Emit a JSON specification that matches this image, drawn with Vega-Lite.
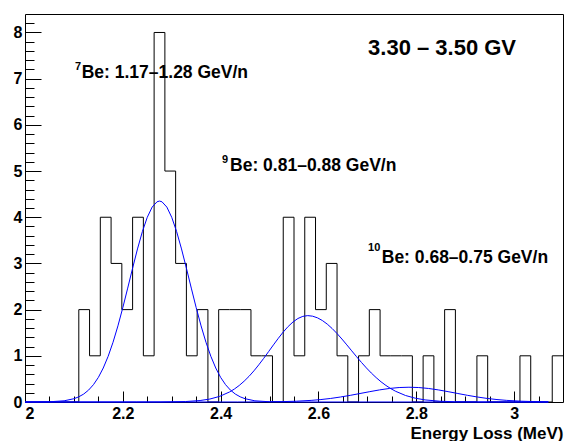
{
  "$schema": "https://vega.github.io/schema/vega-lite/v6.json",
  "width": 538,
  "height": 388,
  "autosize": "none",
  "padding": {"left": 25, "top": 14, "right": 2, "bottom": 39},
  "background": "white",
  "config": {
    "view": {"stroke": "black", "strokeWidth": 1},
    "font": "Liberation Sans",
    "axis": {
      "labelFont": "Liberation Sans",
      "titleFont": "Liberation Sans",
      "labelColor": "black",
      "titleColor": "black",
      "tickColor": "black",
      "labelFontWeight": "bold",
      "titleFontWeight": "bold",
      "grid": false,
      "domain": false,
      "tickWidth": 1
    }
  },
  "datasets": {
    "bins": [
      {"lo": 2.000, "hi": 2.022, "count": 0},
      {"lo": 2.022, "hi": 2.044, "count": 0},
      {"lo": 2.044, "hi": 2.066, "count": 0},
      {"lo": 2.066, "hi": 2.088, "count": 0},
      {"lo": 2.088, "hi": 2.110, "count": 0},
      {"lo": 2.110, "hi": 2.132, "count": 2},
      {"lo": 2.132, "hi": 2.154, "count": 1},
      {"lo": 2.154, "hi": 2.176, "count": 4},
      {"lo": 2.176, "hi": 2.198, "count": 3},
      {"lo": 2.198, "hi": 2.220, "count": 2},
      {"lo": 2.220, "hi": 2.242, "count": 4},
      {"lo": 2.242, "hi": 2.264, "count": 1},
      {"lo": 2.264, "hi": 2.286, "count": 8},
      {"lo": 2.286, "hi": 2.308, "count": 5},
      {"lo": 2.308, "hi": 2.330, "count": 3},
      {"lo": 2.330, "hi": 2.352, "count": 1},
      {"lo": 2.352, "hi": 2.374, "count": 2},
      {"lo": 2.374, "hi": 2.396, "count": 0},
      {"lo": 2.396, "hi": 2.418, "count": 2},
      {"lo": 2.418, "hi": 2.440, "count": 2},
      {"lo": 2.440, "hi": 2.462, "count": 2},
      {"lo": 2.462, "hi": 2.484, "count": 1},
      {"lo": 2.484, "hi": 2.506, "count": 1},
      {"lo": 2.506, "hi": 2.528, "count": 0},
      {"lo": 2.528, "hi": 2.550, "count": 4},
      {"lo": 2.550, "hi": 2.572, "count": 1},
      {"lo": 2.572, "hi": 2.594, "count": 4},
      {"lo": 2.594, "hi": 2.616, "count": 2},
      {"lo": 2.616, "hi": 2.638, "count": 3},
      {"lo": 2.638, "hi": 2.660, "count": 1},
      {"lo": 2.660, "hi": 2.682, "count": 0},
      {"lo": 2.682, "hi": 2.704, "count": 1},
      {"lo": 2.704, "hi": 2.726, "count": 2},
      {"lo": 2.726, "hi": 2.748, "count": 1},
      {"lo": 2.748, "hi": 2.770, "count": 1},
      {"lo": 2.770, "hi": 2.792, "count": 1},
      {"lo": 2.792, "hi": 2.814, "count": 0},
      {"lo": 2.814, "hi": 2.836, "count": 1},
      {"lo": 2.836, "hi": 2.858, "count": 0},
      {"lo": 2.858, "hi": 2.880, "count": 2},
      {"lo": 2.880, "hi": 2.902, "count": 0},
      {"lo": 2.902, "hi": 2.924, "count": 0},
      {"lo": 2.924, "hi": 2.946, "count": 1},
      {"lo": 2.946, "hi": 2.968, "count": 0},
      {"lo": 2.968, "hi": 2.990, "count": 0},
      {"lo": 2.990, "hi": 3.012, "count": 0},
      {"lo": 3.012, "hi": 3.034, "count": 1},
      {"lo": 3.034, "hi": 3.056, "count": 0},
      {"lo": 3.056, "hi": 3.078, "count": 0},
      {"lo": 3.078, "hi": 3.100, "count": 1}
    ],
    "curves": [
      {"peak": "7Be", "x": 2.00, "y": 0.0002},
      {"peak": "7Be", "x": 2.05, "y": 0.0048},
      {"peak": "7Be", "x": 2.08, "y": 0.026},
      {"peak": "7Be", "x": 2.10, "y": 0.071},
      {"peak": "7Be", "x": 2.11, "y": 0.112},
      {"peak": "7Be", "x": 2.12, "y": 0.172},
      {"peak": "7Be", "x": 2.13, "y": 0.258},
      {"peak": "7Be", "x": 2.14, "y": 0.376},
      {"peak": "7Be", "x": 2.15, "y": 0.533},
      {"peak": "7Be", "x": 2.16, "y": 0.736},
      {"peak": "7Be", "x": 2.17, "y": 0.989},
      {"peak": "7Be", "x": 2.18, "y": 1.294},
      {"peak": "7Be", "x": 2.19, "y": 1.648},
      {"peak": "7Be", "x": 2.20, "y": 2.043},
      {"peak": "7Be", "x": 2.21, "y": 2.466},
      {"peak": "7Be", "x": 2.22, "y": 2.897},
      {"peak": "7Be", "x": 2.23, "y": 3.314},
      {"peak": "7Be", "x": 2.24, "y": 3.690},
      {"peak": "7Be", "x": 2.25, "y": 3.999},
      {"peak": "7Be", "x": 2.26, "y": 4.220},
      {"peak": "7Be", "x": 2.27, "y": 4.335},
      {"peak": "7Be", "x": 2.275, "y": 4.35},
      {"peak": "7Be", "x": 2.28, "y": 4.335},
      {"peak": "7Be", "x": 2.29, "y": 4.220},
      {"peak": "7Be", "x": 2.30, "y": 3.999},
      {"peak": "7Be", "x": 2.31, "y": 3.690},
      {"peak": "7Be", "x": 2.32, "y": 3.314},
      {"peak": "7Be", "x": 2.33, "y": 2.897},
      {"peak": "7Be", "x": 2.34, "y": 2.466},
      {"peak": "7Be", "x": 2.35, "y": 2.043},
      {"peak": "7Be", "x": 2.36, "y": 1.648},
      {"peak": "7Be", "x": 2.37, "y": 1.294},
      {"peak": "7Be", "x": 2.38, "y": 0.989},
      {"peak": "7Be", "x": 2.39, "y": 0.736},
      {"peak": "7Be", "x": 2.40, "y": 0.533},
      {"peak": "7Be", "x": 2.41, "y": 0.376},
      {"peak": "7Be", "x": 2.42, "y": 0.258},
      {"peak": "7Be", "x": 2.43, "y": 0.172},
      {"peak": "7Be", "x": 2.44, "y": 0.112},
      {"peak": "7Be", "x": 2.45, "y": 0.071},
      {"peak": "7Be", "x": 2.47, "y": 0.026},
      {"peak": "7Be", "x": 2.50, "y": 0.0048},
      {"peak": "7Be", "x": 2.55, "y": 0.0002},
      {"peak": "7Be", "x": 3.07, "y": 0},
      {"peak": "9Be", "x": 2.00, "y": 0},
      {"peak": "9Be", "x": 2.228, "y": 0.0001},
      {"peak": "9Be", "x": 2.278, "y": 0.0009},
      {"peak": "9Be", "x": 2.328, "y": 0.0096},
      {"peak": "9Be", "x": 2.358, "y": 0.032},
      {"peak": "9Be", "x": 2.378, "y": 0.064},
      {"peak": "9Be", "x": 2.398, "y": 0.122},
      {"peak": "9Be", "x": 2.418, "y": 0.216},
      {"peak": "9Be", "x": 2.428, "y": 0.280},
      {"peak": "9Be", "x": 2.438, "y": 0.358},
      {"peak": "9Be", "x": 2.448, "y": 0.450},
      {"peak": "9Be", "x": 2.458, "y": 0.555},
      {"peak": "9Be", "x": 2.468, "y": 0.674},
      {"peak": "9Be", "x": 2.478, "y": 0.805},
      {"peak": "9Be", "x": 2.488, "y": 0.944},
      {"peak": "9Be", "x": 2.498, "y": 1.090},
      {"peak": "9Be", "x": 2.508, "y": 1.237},
      {"peak": "9Be", "x": 2.518, "y": 1.380},
      {"peak": "9Be", "x": 2.528, "y": 1.515},
      {"peak": "9Be", "x": 2.538, "y": 1.634},
      {"peak": "9Be", "x": 2.548, "y": 1.733},
      {"peak": "9Be", "x": 2.558, "y": 1.808},
      {"peak": "9Be", "x": 2.568, "y": 1.854},
      {"peak": "9Be", "x": 2.578, "y": 1.870},
      {"peak": "9Be", "x": 2.588, "y": 1.858},
      {"peak": "9Be", "x": 2.598, "y": 1.822},
      {"peak": "9Be", "x": 2.608, "y": 1.764},
      {"peak": "9Be", "x": 2.618, "y": 1.686},
      {"peak": "9Be", "x": 2.628, "y": 1.591},
      {"peak": "9Be", "x": 2.638, "y": 1.482},
      {"peak": "9Be", "x": 2.648, "y": 1.363},
      {"peak": "9Be", "x": 2.658, "y": 1.237},
      {"peak": "9Be", "x": 2.668, "y": 1.108},
      {"peak": "9Be", "x": 2.678, "y": 0.980},
      {"peak": "9Be", "x": 2.688, "y": 0.856},
      {"peak": "9Be", "x": 2.698, "y": 0.738},
      {"peak": "9Be", "x": 2.708, "y": 0.628},
      {"peak": "9Be", "x": 2.718, "y": 0.528},
      {"peak": "9Be", "x": 2.728, "y": 0.437},
      {"peak": "9Be", "x": 2.738, "y": 0.358},
      {"peak": "9Be", "x": 2.748, "y": 0.289},
      {"peak": "9Be", "x": 2.758, "y": 0.231},
      {"peak": "9Be", "x": 2.778, "y": 0.141},
      {"peak": "9Be", "x": 2.798, "y": 0.082},
      {"peak": "9Be", "x": 2.818, "y": 0.045},
      {"peak": "9Be", "x": 2.848, "y": 0.017},
      {"peak": "9Be", "x": 2.878, "y": 0.0056},
      {"peak": "9Be", "x": 2.928, "y": 0.0007},
      {"peak": "9Be", "x": 3.07, "y": 0},
      {"peak": "10Be", "x": 2.00, "y": 0},
      {"peak": "10Be", "x": 2.435, "y": 0.0004},
      {"peak": "10Be", "x": 2.485, "y": 0.0022},
      {"peak": "10Be", "x": 2.525, "y": 0.0076},
      {"peak": "10Be", "x": 2.555, "y": 0.017},
      {"peak": "10Be", "x": 2.585, "y": 0.035},
      {"peak": "10Be", "x": 2.605, "y": 0.053},
      {"peak": "10Be", "x": 2.625, "y": 0.077},
      {"peak": "10Be", "x": 2.645, "y": 0.108},
      {"peak": "10Be", "x": 2.665, "y": 0.144},
      {"peak": "10Be", "x": 2.685, "y": 0.184},
      {"peak": "10Be", "x": 2.705, "y": 0.224},
      {"peak": "10Be", "x": 2.725, "y": 0.262},
      {"peak": "10Be", "x": 2.745, "y": 0.293},
      {"peak": "10Be", "x": 2.765, "y": 0.313},
      {"peak": "10Be", "x": 2.785, "y": 0.320},
      {"peak": "10Be", "x": 2.805, "y": 0.313},
      {"peak": "10Be", "x": 2.825, "y": 0.293},
      {"peak": "10Be", "x": 2.845, "y": 0.262},
      {"peak": "10Be", "x": 2.865, "y": 0.224},
      {"peak": "10Be", "x": 2.885, "y": 0.184},
      {"peak": "10Be", "x": 2.905, "y": 0.144},
      {"peak": "10Be", "x": 2.925, "y": 0.108},
      {"peak": "10Be", "x": 2.945, "y": 0.077},
      {"peak": "10Be", "x": 2.965, "y": 0.053},
      {"peak": "10Be", "x": 2.985, "y": 0.035},
      {"peak": "10Be", "x": 3.015, "y": 0.017},
      {"peak": "10Be", "x": 3.045, "y": 0.0076},
      {"peak": "10Be", "x": 3.07, "y": 0.0036}
    ]
  },
  "layer": [
    {
      "data": {"name": "bins"},
      "transform": [{"fold": ["lo", "hi"], "as": ["side", "edge"]}],
      "mark": {"type": "line", "color": "black", "strokeWidth": 1},
      "encoding": {
        "x": {
          "field": "edge", "type": "quantitative",
          "scale": {"domain": [2, 3.1], "nice": false, "zero": false},
          "axis": {
            "orient": "bottom",
            "values": [2, 2.2, 2.4, 2.6, 2.8, 3],
            "format": "~g",
            "tickSize": -11,
            "labelPadding": 14,
            "labelFontSize": 16,
            "title": "Energy Loss (MeV)",
            "titleFontSize": 17,
            "titleAnchor": "end",
            "titlePadding": 4
          }
        },
        "y": {
          "field": "count", "type": "quantitative",
          "scale": {"domain": [0, 8.4], "nice": false, "zero": true},
          "axis": {
            "orient": "left",
            "values": [0, 1, 2, 3, 4, 5, 6, 7, 8],
            "format": "~g",
            "tickSize": -16,
            "labelPadding": 19,
            "labelFontSize": 16,
            "title": null
          }
        },
        "order": [
          {"field": "edge", "type": "quantitative"},
          {"field": "side", "type": "nominal"}
        ]
      }
    },
    {
      "data": {"name": "curves"},
      "mark": {"type": "line", "color": "#0000ff", "strokeWidth": 1},
      "encoding": {
        "x": {
          "field": "x", "type": "quantitative",
          "axis": {
            "orient": "bottom",
            "values": [2.05, 2.1, 2.15, 2.25, 2.3, 2.35, 2.45, 2.5, 2.55, 2.65, 2.7, 2.75, 2.85, 2.9, 2.95, 3.05],
            "tickSize": -6,
            "labels": false,
            "title": null
          }
        },
        "y": {
          "field": "y", "type": "quantitative",
          "axis": {
            "orient": "left",
            "values": [0.2, 0.4, 0.6, 0.8, 1.2, 1.4, 1.6, 1.8, 2.2, 2.4, 2.6, 2.8, 3.2, 3.4, 3.6, 3.8, 4.2, 4.4, 4.6, 4.8, 5.2, 5.4, 5.6, 5.8, 6.2, 6.4, 6.6, 6.8, 7.2, 7.4, 7.6, 7.8, 8.2],
            "tickSize": -9,
            "labels": false,
            "title": null
          }
        },
        "detail": {"field": "peak", "type": "nominal"},
        "order": {"field": "x", "type": "quantitative"}
      }
    },
    {
      "data": {"values": [{"label": "3.30 – 3.50 GV"}]},
      "mark": {"type": "text", "align": "left", "baseline": "alphabetic", "fontSize": 22, "fontWeight": "bold", "font": "Liberation Sans", "color": "black"},
      "encoding": {
        "x": {"datum": 2.7014, "type": "quantitative", "axis": null},
        "y": {"datum": 7.512, "type": "quantitative", "axis": null},
        "text": {"field": "label", "type": "nominal"}
      }
    },
    {
      "data": {"values": [{"label": "7"}]},
      "mark": {"type": "text", "align": "left", "baseline": "alphabetic", "fontSize": 11, "fontWeight": "bold", "font": "Liberation Sans", "color": "black"},
      "encoding": {
        "x": {"datum": 2.1022, "type": "quantitative", "axis": null},
        "y": {"datum": 7.188, "type": "quantitative", "axis": null},
        "text": {"field": "label", "type": "nominal"}
      }
    },
    {
      "data": {"values": [{"label": "Be: 1.17–1.28 GeV/n"}]},
      "mark": {"type": "text", "align": "left", "baseline": "alphabetic", "fontSize": 17.5, "fontWeight": "bold", "font": "Liberation Sans", "color": "black"},
      "encoding": {
        "x": {"datum": 2.1159, "type": "quantitative", "axis": null},
        "y": {"datum": 7.015, "type": "quantitative", "axis": null},
        "text": {"field": "label", "type": "nominal"}
      }
    },
    {
      "data": {"values": [{"label": "9"}]},
      "mark": {"type": "text", "align": "left", "baseline": "alphabetic", "fontSize": 11, "fontWeight": "bold", "font": "Liberation Sans", "color": "black"},
      "encoding": {
        "x": {"datum": 2.4029, "type": "quantitative", "axis": null},
        "y": {"datum": 5.174, "type": "quantitative", "axis": null},
        "text": {"field": "label", "type": "nominal"}
      }
    },
    {
      "data": {"values": [{"label": "Be: 0.81–0.88 GeV/n"}]},
      "mark": {"type": "text", "align": "left", "baseline": "alphabetic", "fontSize": 17.5, "fontWeight": "bold", "font": "Liberation Sans", "color": "black"},
      "encoding": {
        "x": {"datum": 2.4192, "type": "quantitative", "axis": null},
        "y": {"datum": 5.001, "type": "quantitative", "axis": null},
        "text": {"field": "label", "type": "nominal"}
      }
    },
    {
      "data": {"values": [{"label": "10"}]},
      "mark": {"type": "text", "align": "left", "baseline": "alphabetic", "fontSize": 11, "fontWeight": "bold", "font": "Liberation Sans", "color": "black"},
      "encoding": {
        "x": {"datum": 2.7014, "type": "quantitative", "axis": null},
        "y": {"datum": 3.269, "type": "quantitative", "axis": null},
        "text": {"field": "label", "type": "nominal"}
      }
    },
    {
      "data": {"values": [{"label": "Be: 0.68–0.75 GeV/n"}]},
      "mark": {"type": "text", "align": "left", "baseline": "alphabetic", "fontSize": 17.5, "fontWeight": "bold", "font": "Liberation Sans", "color": "black"},
      "encoding": {
        "x": {"datum": 2.7294, "type": "quantitative", "axis": null},
        "y": {"datum": 3.009, "type": "quantitative", "axis": null},
        "text": {"field": "label", "type": "nominal"}
      }
    }
  ],
  "resolve": {"axis": {"x": "independent", "y": "independent"}}
}
